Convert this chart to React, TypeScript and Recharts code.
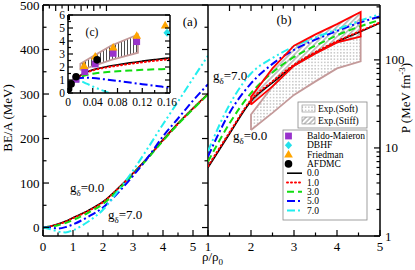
import React from 'react';
import { ComposedChart, Line, Area, Scatter, XAxis, YAxis } from 'recharts';

const W = 415;
const H = 270;
const FONT = '"Liberation Serif", "DejaVu Serif", serif';

// ---- (a) BE/A (MeV) vs rho/rho0
const rhoA = [0, 0.25, 0.5, 0.75, 1, 1.5, 2, 2.5, 3, 3.5, 4, 4.5, 5, 5.5];
const beG0 = [0, 3, 8, 14, 22, 38, 58, 88, 122, 158, 197, 234, 268, 300];
const beG1 = [0, 3, 7, 13, 21, 37, 57, 87, 121, 157, 196, 233, 267, 300];
const beG3 = [0, 2, 5, 10, 17, 33, 53, 84, 119, 156, 195, 232, 266, 299];
const beG5 = [0, 0, -2, 1, 7, 24, 45, 78, 116, 158, 205, 245, 285, 322];
const beG7 = [0, -4, -9, -11, -6, 13, 40, 82, 128, 179, 232, 283, 335, 386];

// ---- (b) P (MeV fm^-3) vs rho/rho0
const rhoB = [1, 1.5, 2, 2.5, 3, 3.5, 4, 4.5, 5];
const pG0 = [6, 14.5, 34, 55, 86, 120, 160, 205, 262];
const pG1 = [6.2, 15, 35, 57, 88, 123, 163, 208, 266];
const pG3 = [7, 19, 42, 72, 108, 145, 190, 237, 285];
const pG5 = [8, 25, 54, 90, 130, 170, 213, 262, 312];
const pG7 = [9.2, 31, 70, 105, 142, 180, 222, 275, 330];

// experimental flow constraints
const bandRho = [2.0, 2.5, 3.0, 3.5, 4.0, 4.55];
const softLo = [16, 25, 40, 57, 80, 96];
const softHi = [24, 50, 86, 118, 158, 184];
const stiffLo = [31, 50, 86, 118, 158, 184];
const stiffHi = [38, 80, 145, 195, 255, 350];

// ---- (c) low density inset
const rhoC = [0, 0.005, 0.01, 0.02, 0.03, 0.04, 0.06, 0.08, 0.1, 0.12, 0.14, 0.16, 0.165];
const lowG0 = [0, 0.55, 0.9, 1.35, 1.6, 1.78, 2.0, 2.17, 2.32, 2.45, 2.57, 2.68, 2.7];
const lowG1 = [0, 0.55, 0.9, 1.33, 1.57, 1.74, 1.95, 2.1, 2.24, 2.36, 2.48, 2.58, 2.6];
const lowG3 = [0, 0.5, 0.85, 1.2, 1.38, 1.48, 1.6, 1.67, 1.73, 1.78, 1.82, 1.85, 1.86];
const lowG5 = [0, 0.55, 0.9, 1.15, 1.18, 1.15, 1.05, 0.93, 0.8, 0.68, 0.56, 0.44, 0.42];
const lowG7 = [0, 0.55, 0.85, 0.9, 0.72, 0.5, 0.12, -0.25, -0.6, -0.95, -1.3, -1.65, -1.75];

const baldoX = [0.013, 0.027, 0.044, 0.073, 0.111];
const baldoY = [1.05, 1.64, 2.23, 3.05, 3.95];
const friedX = [0.026, 0.044, 0.073, 0.111, 0.157];
const friedY = [2.08, 2.8, 3.5, 4.4, 5.2];
const dbhfX = [0.16];
const dbhfY = [4.64];
const afdmcX = [0.001, 0.005, 0.013, 0.047];
const afdmcY = [0.3, 0.7, 1.25, 2.55];

const lowBandRho = [0.02, 0.045, 0.07, 0.113];
const lowBandLo = [1.75, 2.15, 2.55, 3.1];
const lowBandHi = [2.25, 2.95, 3.65, 4.5];

const SERIES = [
  { key: 'g0', name: '0.0', color: '#000000', dash: undefined as string | undefined, width: 1.6 },
  { key: 'g1', name: '1.0', color: '#ff0000', dash: '1 3', width: 2 },
  { key: 'g3', name: '3.0', color: '#11dd11', dash: '7 4', width: 2 },
  { key: 'g5', name: '5.0', color: '#0000ff', dash: '8 3 2 3', width: 2 },
  { key: 'g7', name: '7.0', color: '#22eeee', dash: '8 3 2 3 2 3', width: 2 },
];

const PURPLE = '#9932cc';
const CYAN = '#22e0ea';
const ORANGE = '#ffa500';
const ROSY = '#c49a9a';

const table = (xs: number[], cols: number[][]) =>
  xs.map((x, i) => ({ x, g0: cols[0][i], g1: cols[1][i], g3: cols[2][i], g5: cols[3][i], g7: cols[4][i] }));

const dataA = table(rhoA, [beG0, beG1, beG3, beG5, beG7]);
const dataB = table(rhoB, [pG0, pG1, pG3, pG5, pG7]);
const dataC = table(rhoC, [lowG0, lowG1, lowG3, lowG5, lowG7]);

const band = (xs: number[], lo: number[], hi: number[]) => xs.map((x, i) => ({ x, lo: lo[i], hi: hi[i] }));
const outline = (xs: number[], lo: number[], hi: number[]) => {
  const p = xs.map((x, i) => ({ x, y: lo[i] }));
  for (let i = xs.length - 1; i >= 0; i--) p.push({ x: xs[i], y: hi[i] });
  p.push({ x: xs[0], y: lo[0] });
  return p;
};
const pts = (xs: number[], ys: number[]) => xs.map((x, i) => ({ x, y: ys[i] }));

const range = (a: number, b: number, s: number) => {
  const out: number[] = [];
  for (let v = a; v <= b + 1e-9; v += s) out.push(Math.round(v * 1000) / 1000);
  return out;
};

const ticksAX = range(0, 5, 0.5);
const ticksAY = range(0, 500, 50);
const ticksBX = range(1, 5, 0.5);
const ticksBY = [1, 2, 3, 4, 5, 6, 7, 8, 9, 10, 20, 30, 40, 50, 60, 70, 80, 90, 100, 200, 300, 400];
const ticksCX = range(0, 0.16, 0.02);
const ticksCY = range(0, 6, 0.5);

const isMult = (v: number, step: number) => Math.abs(v / step - Math.round(v / step)) < 1e-6;

type Side = 'bottom' | 'top' | 'left' | 'right';
interface TickCfg {
  side: Side;
  major: (v: number) => boolean;
  label?: boolean;
  fmt?: (v: number) => string;
  size?: number;
  gap?: number;
  big?: number;
  small?: number;
}

function makeTick(cfg: TickCfg) {
  const { side, label = false, fmt = (v: number) => String(v), size = 13, gap = 3, big = 6, small = 3.5 } = cfg;
  return function Tick(props: any) {
    const { x, y, payload } = props;
    const v = payload.value as number;
    const maj = cfg.major(v);
    const len = maj ? big : small;
    const txt = { fill: '#000', stroke: 'none', fontFamily: FONT, fontSize: size } as const;
    let l = null;
    let t = null;
    if (side === 'bottom') {
      l = <line x1={x} y1={y} x2={x} y2={y - len} />;
      if (label && maj) t = <text x={x} y={y + gap} textAnchor="middle" {...txt}>{fmt(v)}</text>;
    } else if (side === 'top') {
      l = <line x1={x} y1={y} x2={x} y2={y + len} />;
    } else if (side === 'left') {
      l = <line x1={x} y1={y} x2={x + len} y2={y} />;
      if (label && maj) t = <text x={x - gap} y={y} dy="0.35em" textAnchor="end" {...txt}>{fmt(v)}</text>;
    } else {
      l = <line x1={x} y1={y} x2={x - len} y2={y} />;
      if (label && maj) t = <text x={x + gap} y={y} dy="0.35em" textAnchor="start" {...txt}>{fmt(v)}</text>;
    }
    return (
      <g stroke="#000" strokeWidth={1.2}>
        {l}
        {t}
      </g>
    );
  };
}

const AX = { stroke: '#000', strokeWidth: 1.5 };
const axisCommon = { type: 'number' as const, interval: 0 as const, tickSize: 0, tickMargin: 0, tickLine: false, axisLine: AX, allowDataOverflow: true };
const box: React.CSSProperties = { position: 'absolute', left: 0, top: 0 };

const curves = () =>
  SERIES.map((s) => (
    <Line
      key={s.key}
      dataKey={s.key}
      type="monotone"
      stroke={s.color}
      strokeWidth={s.width}
      strokeDasharray={s.dash}
      strokeLinecap={s.key === 'g1' ? 'round' : 'butt'}
      dot={false}
      activeDot={false}
      isAnimationActive={false}
    />
  ));

// axes take 1px each; margins are the plot box minus that pixel
function PanelA() {
  const majX = (v: number) => isMult(v, 1);
  const majY = (v: number) => isMult(v, 100);
  return (
    <div style={box}>
      <ComposedChart width={W} height={H} data={dataA} margin={{ top: 4, right: 206, bottom: 33, left: 42 }}>
        <XAxis {...axisCommon} dataKey="x" domain={[0, 5.5]} ticks={ticksAX} height={1}
          tick={makeTick({ side: 'bottom', major: majX, label: true, gap: 14.7 })} />
        <XAxis {...axisCommon} xAxisId="top" orientation="top" domain={[0, 5.5]} ticks={ticksAX} height={1}
          tick={makeTick({ side: 'top', major: majX })} />
        <YAxis {...axisCommon} domain={[-19, 500]} ticks={ticksAY} width={1}
          tick={makeTick({ side: 'left', major: majY, label: true, gap: 3.5 })} />
        <YAxis {...axisCommon} yAxisId="right" orientation="right" domain={[-19, 500]} ticks={ticksAY} width={1}
          tick={makeTick({ side: 'right', major: majY })} />
        {curves()}
      </ComposedChart>
    </div>
  );
}

function PanelB() {
  const majX = (v: number) => isMult(v, 1);
  const majY = (v: number) => v === 1 || v === 10 || v === 100;
  return (
    <div style={box}>
      <ComposedChart width={W} height={H} data={dataB} margin={{ top: 4, right: 34, bottom: 33, left: 208 }}>
        <defs>
          <pattern id="softDots" patternUnits="userSpaceOnUse" width={3.2} height={3.2}>
            <rect x={1.2} y={1.2} width={0.8} height={0.8} fill="#333" />
          </pattern>
          <pattern id="stiffHatch" patternUnits="userSpaceOnUse" width={3.5} height={3.5} patternTransform="rotate(45)">
            <line x1={1.75} y1={0} x2={1.75} y2={3.5} stroke="#444" strokeWidth={0.6} />
          </pattern>
        </defs>
        <XAxis {...axisCommon} dataKey="x" domain={[1, 5]} ticks={ticksBX} height={1}
          tick={makeTick({ side: 'bottom', major: majX, label: true, gap: 14.7 })} />
        <XAxis {...axisCommon} xAxisId="top" orientation="top" domain={[1, 5]} ticks={ticksBX} height={1}
          tick={makeTick({ side: 'top', major: majX })} />
        <YAxis {...axisCommon} orientation="right" scale="log" domain={[1, 420]} ticks={ticksBY} width={1}
          tick={makeTick({ side: 'right', major: majY, label: true, gap: 5 })} />
        <Area data={band(bandRho, softLo, softHi)} dataKey={(d: any) => [d.lo, d.hi]} type="linear"
          fill="url(#softDots)" fillOpacity={1} stroke="none" isAnimationActive={false} activeDot={false} />
        <Area data={band(bandRho, stiffLo, stiffHi)} dataKey={(d: any) => [d.lo, d.hi]} type="linear"
          fill="url(#stiffHatch)" fillOpacity={1} stroke="none" isAnimationActive={false} activeDot={false} />
        <Line data={outline(bandRho, softLo, softHi)} dataKey="y" type="linear" stroke={ROSY} strokeWidth={1.8}
          dot={false} activeDot={false} isAnimationActive={false} />
        {curves()}
        <Line data={outline(bandRho, stiffLo, stiffHi)} dataKey="y" type="linear" stroke="#ff0000" strokeWidth={1.8}
          dot={false} activeDot={false} isAnimationActive={false} />
      </ComposedChart>
    </div>
  );
}

const squareShape = (p: any) => <rect x={p.cx - 3.4} y={p.cy - 3.4} width={6.8} height={6.8} fill={PURPLE} />;
const triShape = (p: any) => (
  <polygon points={`${p.cx},${p.cy - 4.6} ${p.cx - 4.4},${p.cy + 3} ${p.cx + 4.4},${p.cy + 3}`} fill={ORANGE} />
);
const diamondShape = (p: any) => (
  <polygon points={`${p.cx},${p.cy - 4} ${p.cx + 3.6},${p.cy} ${p.cx},${p.cy + 4} ${p.cx - 3.6},${p.cy}`} fill={CYAN} />
);
const circleShape = (p: any) => <circle cx={p.cx} cy={p.cy} r={3.8} fill="#000" />;

function PanelC() {
  const majX = (v: number) => isMult(v, 0.04);
  const majY = (v: number) => isMult(v, 1);
  const fmtX = (v: number) => (v === 0 ? '0' : v.toFixed(2));
  return (
    <div style={box}>
      <ComposedChart width={W} height={H} data={dataC} margin={{ top: 14, right: 244, bottom: 176, left: 67 }}>
        <defs>
          <pattern id="lowHatch" patternUnits="userSpaceOnUse" width={3} height={3}>
            <line x1={1.5} y1={0} x2={1.5} y2={3} stroke="#000" strokeWidth={0.7} />
          </pattern>
        </defs>
        <XAxis {...axisCommon} dataKey="x" domain={[0, 0.1648]} ticks={ticksCX} height={1}
          tick={makeTick({ side: 'bottom', major: majX, label: true, fmt: fmtX, size: 11.5, gap: 13, big: 5, small: 3 })} />
        <XAxis {...axisCommon} xAxisId="top" orientation="top" domain={[0, 0.1648]} ticks={ticksCX} height={1}
          tick={makeTick({ side: 'top', major: majX, big: 5, small: 3 })} />
        <YAxis {...axisCommon} domain={[0, 6]} ticks={ticksCY} width={1}
          tick={makeTick({ side: 'left', major: majY, label: true, size: 11.5, gap: 3, big: 5, small: 3 })} />
        <YAxis {...axisCommon} yAxisId="right" orientation="right" domain={[0, 6]} ticks={ticksCY} width={1}
          tick={makeTick({ side: 'right', major: majY, big: 5, small: 3 })} />
        <Area data={band(lowBandRho, lowBandLo, lowBandHi)} dataKey={(d: any) => [d.lo, d.hi]} type="linear"
          fill="url(#lowHatch)" fillOpacity={1} stroke="none" isAnimationActive={false} activeDot={false} />
        <Line data={outline(lowBandRho, lowBandLo, lowBandHi)} dataKey="y" type="linear" stroke={ROSY} strokeWidth={1.8}
          dot={false} activeDot={false} isAnimationActive={false} />
        {curves()}
        <Scatter data={pts(baldoX, baldoY)} dataKey="y" shape={squareShape} isAnimationActive={false} />
        <Scatter data={pts(friedX, friedY)} dataKey="y" shape={triShape} isAnimationActive={false} />
        <Scatter data={pts(dbhfX, dbhfY)} dataKey="y" shape={diamondShape} isAnimationActive={false} />
        <Scatter data={pts(afdmcX, afdmcY)} dataKey="y" shape={circleShape} isAnimationActive={false} />
      </ComposedChart>
    </div>
  );
}

const G = ({ x, y, v }: { x: number; y: number; v: string }) => (
  <text x={x} y={y} fontSize={13}>
    g<tspan fontSize={9} dy={4}>δ</tspan>
    <tspan fontSize={13} dy={-4}>={v}</tspan>
  </text>
);

const markerEntries = [
  { name: 'Baldo-Maieron', shape: squareShape },
  { name: 'DBHF', shape: diamondShape },
  { name: 'Friedman', shape: triShape },
  { name: 'AFDMC', shape: circleShape },
];

function Overlay() {
  const rowY = (i: number) => 136 + i * 9.3;
  return (
    <svg width={W} height={H} style={box} fontFamily={FONT} fill="#000">
      <defs>
        <pattern id="legDots" patternUnits="userSpaceOnUse" width={3.2} height={3.2}>
          <rect x={1.2} y={1.2} width={0.8} height={0.8} fill="#333" />
        </pattern>
        <pattern id="legHatch" patternUnits="userSpaceOnUse" width={3.5} height={3.5} patternTransform="rotate(45)">
          <line x1={1.75} y1={0} x2={1.75} y2={3.5} stroke="#444" strokeWidth={0.6} />
        </pattern>
      </defs>
      <text x={190} y={26} fontSize={13} textAnchor="middle">(a)</text>
      <text x={284} y={24} fontSize={13} textAnchor="middle">(b)</text>
      <text x={92} y={36} fontSize={11.5} textAnchor="middle">(c)</text>
      <G x={70} y={192} v="0.0" />
      <G x={108} y={219} v="7.0" />
      <G x={213} y={80} v="7.0" />
      <G x={233} y={140} v="0.0" />

      <text transform="translate(12,118) rotate(-90)" fontSize={13} textAnchor="middle">BE/A (MeV)</text>
      <text transform="translate(410,98) rotate(-90)" fontSize={13} textAnchor="middle">
        P (MeV fm<tspan fontSize={9} dy={-5}>-3</tspan>
        <tspan fontSize={13} dy={5}>)</tspan>
      </text>
      <text x={202} y={261} fontSize={13}>
        ρ/ρ<tspan fontSize={9} dy={4}>0</tspan>
      </text>

      <rect x={298} y={102} width={69} height={26} fill="#fff" stroke="#888" strokeWidth={0.8} />
      <rect x={302} y={105} width={13} height={7} fill="url(#legDots)" stroke="#888" strokeWidth={0.6} />
      <text x={318} y={111.5} fontSize={9.5}>Exp.(Soft)</text>
      <rect x={302} y={117} width={13} height={7} fill="url(#legHatch)" stroke="#888" strokeWidth={0.6} />
      <text x={318} y={123.5} fontSize={9.5}>Exp.(Stiff)</text>

      <rect x={283} y={130} width={84} height={90} fill="#fff" stroke="#888" strokeWidth={0.8} />
      {markerEntries.map((m, i) => (
        <g key={m.name}>
          {m.shape({ cx: 288.5, cy: rowY(i) })}
          <text x={307} y={rowY(i)} dy="0.33em" fontSize={9.5}>{m.name}</text>
        </g>
      ))}
      {SERIES.map((s, i) => (
        <g key={s.key}>
          <line x1={287} x2={302} y1={rowY(i + 4)} y2={rowY(i + 4)} stroke={s.color} strokeWidth={s.width}
            strokeDasharray={s.dash} strokeLinecap={s.key === 'g1' ? 'round' : 'butt'} />
          <text x={307} y={rowY(i + 4)} dy="0.33em" fontSize={9.5}>{s.name}</text>
        </g>
      ))}
    </svg>
  );
}

export default function App() {
  return (
    <div style={{ position: 'absolute', left: 0, top: 0, width: W, height: H, background: '#fff', fontFamily: FONT }}>
      <PanelA />
      <PanelB />
      <PanelC />
      <Overlay />
    </div>
  );
}
